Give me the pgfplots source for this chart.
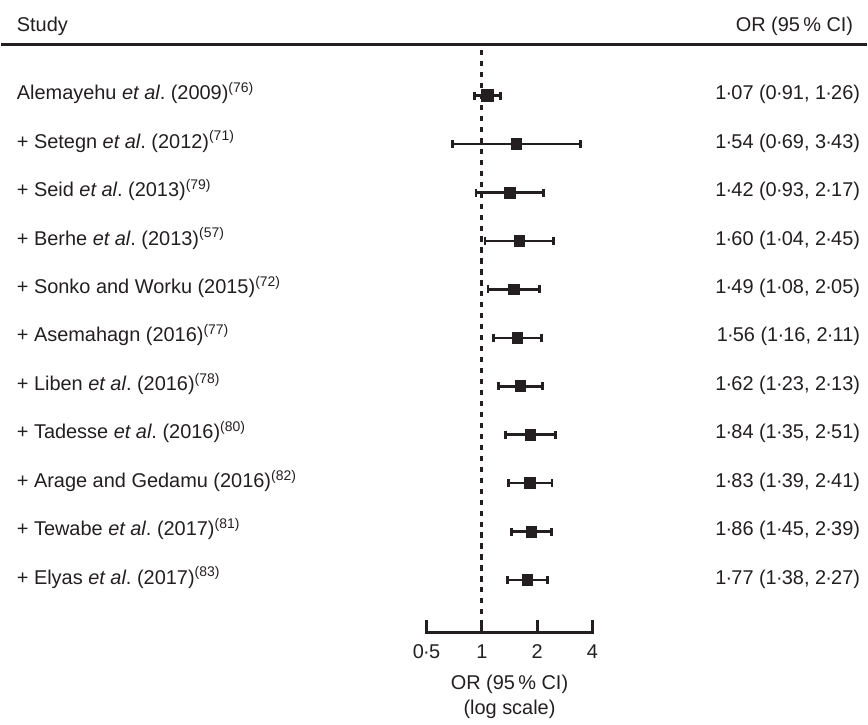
\documentclass[border=0pt]{standalone}
\usepackage{fontspec}
\setmainfont{Liberation Sans}
\usepackage{pgfplots}
\pgfplotsset{compat=1.18}
\definecolor{ink}{HTML}{231F20}
\newcommand{\cd}{\kern-0.04em·\kern-0.04em}

\begin{document}
\frenchspacing
\begin{tikzpicture}[font=\fontsize{10}{12}\selectfont, color=ink]
\begin{axis}[scale only axis, width=434pt, height=360.5pt,
  xmode=log, log basis x=2, xmin=0.0024303, xmax=124.07,
  ymin=-0.975, ymax=13.86, y dir=reverse,
  axis lines=none, clip=false]
% keep the full canvas as bounding box
\path (rel axis cs:0,0) rectangle (rel axis cs:1,1);
% header rule and reference line
\addplot[ink, line width=1.5pt] coordinates {(0.0024303,-0.049) (124.07,-0.049)};
\addplot[ink, line width=1.4pt, dash pattern=on 2.6pt off 2.9pt] coordinates {(1,0.06) (1,12.09)};
% confidence intervals
\pgfplotsset{ci/.style={ink, line width=1.3pt, mark=|, mark size=2pt, mark options={line width=1.4pt}}}
\addplot[ci] coordinates {(0.91,1) (1.26,1)};
\addplot[ci] coordinates {(0.69,2) (3.43,2)};
\addplot[ci] coordinates {(0.93,3) (2.17,3)};
\addplot[ci] coordinates {(1.04,4) (2.45,4)};
\addplot[ci] coordinates {(1.08,5) (2.05,5)};
\addplot[ci] coordinates {(1.16,6) (2.11,6)};
\addplot[ci] coordinates {(1.23,7) (2.13,7)};
\addplot[ci] coordinates {(1.35,8) (2.51,8)};
\addplot[ci] coordinates {(1.39,9) (2.41,9)};
\addplot[ci] coordinates {(1.45,10) (2.39,10)};
\addplot[ci] coordinates {(1.38,11) (2.27,11)};
% point estimates
\addplot[only marks, mark=square*, mark size=3pt, ink, mark options={draw=none, fill=ink}]
  coordinates {(1.07,1)};
\addplot[only marks, mark=square*, mark size=2.7pt, ink, mark options={draw=none, fill=ink}]
  coordinates {(1.54,2) (1.42,3) (1.60,4) (1.49,5) (1.56,6) (1.62,7)
               (1.84,8) (1.83,9) (1.86,10) (1.77,11)};
% bottom scale
\addplot[ink, line width=1.4pt] coordinates {(0.5,11.82) (0.5,12.09) (4,12.09) (4,11.82)};
\addplot[ink, line width=1.4pt] coordinates {(1,11.82) (1,12.09)};
\addplot[ink, line width=1.4pt] coordinates {(2,11.82) (2,12.09)};
\node[anchor=base] at (axis cs:0.5,12.62) {0\cd5};
\node[anchor=base] at (axis cs:1,12.62) {1};
\node[anchor=base] at (axis cs:2,12.62) {2};
\node[anchor=base] at (axis cs:4,12.62) {4};
\node[anchor=base] at (axis cs:1.414,13.27) {OR (95\,\% CI)};
\node[anchor=base] at (axis cs:1.414,13.77) {(log scale)};
% header
\node[anchor=base west, inner sep=0pt] at ({rel axis cs:0.0173,0} |- {axis cs:1,-0.317}) {Study};
\node[anchor=base east, inner sep=0pt] at ({rel axis cs:0.985,0} |- {axis cs:1,-0.317}) {OR (95\,\% CI)};
% study labels
\node[anchor=base west, inner sep=0pt] at ({rel axis cs:0.0173,0} |- {axis cs:1,1.085}) {Alemayehu \textit{et al}. (2009)\textsuperscript{(76)}};
\node[anchor=base west, inner sep=0pt] at ({rel axis cs:0.0173,0} |- {axis cs:1,2.085}) {+ Setegn \textit{et al}. (2012)\textsuperscript{(71)}};
\node[anchor=base west, inner sep=0pt] at ({rel axis cs:0.0173,0} |- {axis cs:1,3.085}) {+ Seid \textit{et al}. (2013)\textsuperscript{(79)}};
\node[anchor=base west, inner sep=0pt] at ({rel axis cs:0.0173,0} |- {axis cs:1,4.085}) {+ Berhe \textit{et al}. (2013)\textsuperscript{(57)}};
\node[anchor=base west, inner sep=0pt] at ({rel axis cs:0.0173,0} |- {axis cs:1,5.085}) {+ Sonko and Worku (2015)\textsuperscript{(72)}};
\node[anchor=base west, inner sep=0pt] at ({rel axis cs:0.0173,0} |- {axis cs:1,6.085}) {+ Asemahagn (2016)\textsuperscript{(77)}};
\node[anchor=base west, inner sep=0pt] at ({rel axis cs:0.0173,0} |- {axis cs:1,7.085}) {+ Liben \textit{et al}. (2016)\textsuperscript{(78)}};
\node[anchor=base west, inner sep=0pt] at ({rel axis cs:0.0173,0} |- {axis cs:1,8.085}) {+ Tadesse \textit{et al}. (2016)\textsuperscript{(80)}};
\node[anchor=base west, inner sep=0pt] at ({rel axis cs:0.0173,0} |- {axis cs:1,9.085}) {+ Arage and Gedamu (2016)\textsuperscript{(82)}};
\node[anchor=base west, inner sep=0pt] at ({rel axis cs:0.0173,0} |- {axis cs:1,10.085}) {+ Tewabe \textit{et al}. (2017)\textsuperscript{(81)}};
\node[anchor=base west, inner sep=0pt] at ({rel axis cs:0.0173,0} |- {axis cs:1,11.085}) {+ Elyas \textit{et al}. (2017)\textsuperscript{(83)}};
% OR column
\node[anchor=base east, inner sep=0pt] at ({rel axis cs:0.993,0} |- {axis cs:1,1.085}) {1\cd07 (0\cd91, 1\cd26)};
\node[anchor=base east, inner sep=0pt] at ({rel axis cs:0.993,0} |- {axis cs:1,2.085}) {1\cd54 (0\cd69, 3\cd43)};
\node[anchor=base east, inner sep=0pt] at ({rel axis cs:0.993,0} |- {axis cs:1,3.085}) {1\cd42 (0\cd93, 2\cd17)};
\node[anchor=base east, inner sep=0pt] at ({rel axis cs:0.993,0} |- {axis cs:1,4.085}) {1\cd60 (1\cd04, 2\cd45)};
\node[anchor=base east, inner sep=0pt] at ({rel axis cs:0.993,0} |- {axis cs:1,5.085}) {1\cd49 (1\cd08, 2\cd05)};
\node[anchor=base east, inner sep=0pt] at ({rel axis cs:0.993,0} |- {axis cs:1,6.085}) {1\cd56 (1\cd16, 2\cd11)};
\node[anchor=base east, inner sep=0pt] at ({rel axis cs:0.993,0} |- {axis cs:1,7.085}) {1\cd62 (1\cd23, 2\cd13)};
\node[anchor=base east, inner sep=0pt] at ({rel axis cs:0.993,0} |- {axis cs:1,8.085}) {1\cd84 (1\cd35, 2\cd51)};
\node[anchor=base east, inner sep=0pt] at ({rel axis cs:0.993,0} |- {axis cs:1,9.085}) {1\cd83 (1\cd39, 2\cd41)};
\node[anchor=base east, inner sep=0pt] at ({rel axis cs:0.993,0} |- {axis cs:1,10.085}) {1\cd86 (1\cd45, 2\cd39)};
\node[anchor=base east, inner sep=0pt] at ({rel axis cs:0.993,0} |- {axis cs:1,11.085}) {1\cd77 (1\cd38, 2\cd27)};
\end{axis}
\end{tikzpicture}
\end{document}
